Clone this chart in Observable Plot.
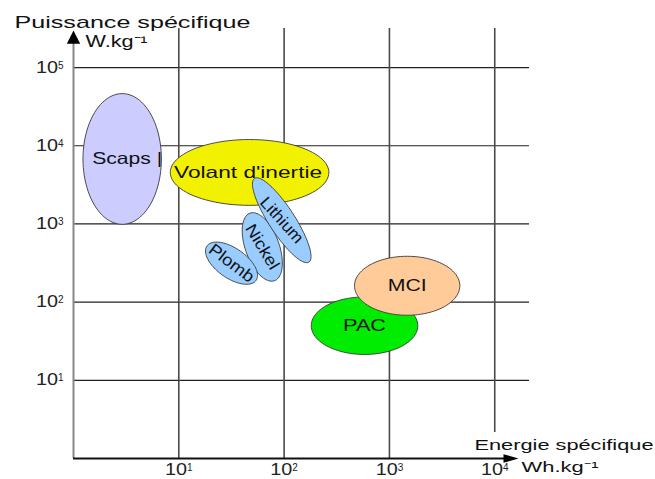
<!DOCTYPE html>
<html><head><meta charset="utf-8">
<script src="https://cdn.jsdelivr.net/npm/d3@7"></script>
<script src="https://cdn.jsdelivr.net/npm/@observablehq/plot@0.6"></script>
<style>body{margin:0;background:#fff}</style>
</head><body><div id="chart"></div>
<script>
// ---- data ----
const technologies = ["Scaps", "Volant d'inertie", "Nickel", "Plomb", "Lithium", "PAC", "MCI"];
const labels       = ["Scaps |", "Volant d'inertie", "Nickel", "Plomb", "Lithium", "PAC", "MCI"];
// ellipse = major axis from (energyFrom, powerFrom) to (energyTo, powerTo), minor/major ratio
const energyFrom = [2.9, 8.3, 47.4, 18.5, 52.4, 181, 466];      // Wh/kg
const energyTo   = [2.9, 266, 81.1, 54.2, 172, 1860, 4660];
const powerFrom  = [46500, 4560, 1374, 522, 3830, 50, 162];     // W/kg
const powerTo    = [990, 4560, 188, 190, 325, 50, 162];
const widthRatio = [0.6, 0.415, 0.47, 0.5, 0.26, 0.54, 0.56];
const xTicks = [10, 100, 1000, 10000];
const yTicks = [10, 100, 1000, 10000, 100000];
const tickLabels = {10: "10¹", 100: "10²", 1000: "10³", 10000: "10⁴", 100000: "10⁵"};
const yTitle = "Puissance spécifique", yUnit = "W.kg⁻¹";
const xTitle = "Energie spécifique", xUnit = "Wh.kg⁻¹";

// ---- styles ----
const fills = {"Scaps": "#ccccff", "Volant d'inertie": "#f2f200", "Nickel": "#99ccff", "Plomb": "#99ccff",
               "Lithium": "#99ccff", "PAC": "#00ec00", "MCI": "#ffcc99"};
const labelRotate = {"Nickel": 59, "Plomb": 37, "Lithium": 48};
const labelDx = {"Scaps": 5, "Volant d'inertie": -1.5};
const textWidths = {"Scaps |": 70, "Volant d'inertie": 148, "Nickel": 50, "Plomb": 52, "Lithium": 56,
  "PAC": 43, "MCI": 39, "Puissance spécifique": 236, "W.kg⁻¹": 62, "Energie spécifique": 179, "Wh.kg⁻¹": 77};
const superDigits = {"¹": "1", "²": "2", "³": "3", "⁴": "4", "⁵": "5"};

const W = 655, H = 479, mL = 73, mR = 126, mT = 28, mB = 21;
const xMax = 10 ** 4.33, yMax = 10 ** 5.5;
const kx = (W - mL - mR) / Math.log10(xMax), ky = (H - mT - mB) / Math.log10(yMax);

function ellipsePoints(i, n = 96) {
  const u1 = Math.log10(energyFrom[i]) * kx, v1 = -Math.log10(powerFrom[i]) * ky;
  const u2 = Math.log10(energyTo[i]) * kx, v2 = -Math.log10(powerTo[i]) * ky;
  const uc = (u1 + u2) / 2, vc = (v1 + v2) / 2;
  const a = Math.hypot(u2 - u1, v2 - v1) / 2, b = a * widthRatio[i];
  const phi = Math.atan2(v2 - v1, u2 - u1);
  return d3.range(n).map(k => {
    const t = 2 * Math.PI * k / n, ex = a * Math.cos(t), ey = b * Math.sin(t);
    const u = uc + ex * Math.cos(phi) - ey * Math.sin(phi);
    const v = vc + ex * Math.sin(phi) + ey * Math.cos(phi);
    return {energy: 10 ** (u / kx), power: 10 ** (-v / ky)};
  });
}

const labelData = technologies.map((t, i) => ({
  name: t, label: labels[i],
  energy: Math.sqrt(energyFrom[i] * energyTo[i]),
  power: Math.sqrt(powerFrom[i] * powerTo[i])
}));

const arrowUp = {draw(ctx) { ctx.moveTo(0, 0); ctx.lineTo(6.7, 13.3); ctx.lineTo(-6.7, 13.3); ctx.closePath(); }};
const arrowRight = {draw(ctx) { ctx.moveTo(0, 0); ctx.lineTo(-15, -4.2); ctx.lineTo(-15, 4.2); ctx.closePath(); }};

const marks = [
  Plot.ruleY(yTicks, {y: d => d, stroke: "#222", strokeWidth: 1.2}),
  Plot.ruleX(xTicks.slice(0, 3), {x: d => d, stroke: "#4a4a4a", strokeWidth: 1.6}),
  Plot.ruleX(xTicks.slice(3), {x: d => d, stroke: "#4a4a4a", strokeWidth: 1.6, insetBottom: 26}),
  Plot.ruleX([1], {x: d => d, stroke: "#888", strokeWidth: 2, insetTop: 8}),
  Plot.ruleY([1], {y: d => d, stroke: "#111", strokeWidth: 2, insetRight: 20}),
  Plot.dot([1], {x: () => 1, y: () => yMax, symbol: arrowUp, fill: "#000", stroke: "none", dy: 2}),
  Plot.dot([1], {x: () => xMax, y: () => 1, symbol: arrowRight, fill: "#000", stroke: "none", dx: -11})
];
technologies.forEach((t, i) => {
  marks.push(Plot.line(ellipsePoints(i), {x: "energy", y: "power", curve: "linear-closed",
    fill: fills[t], stroke: "#3a3a3a", strokeWidth: 0.9}));
});
labelData.forEach(d => {
  marks.push(Plot.text([d], {x: "energy", y: "power", text: "label", rotate: labelRotate[d.name] || 0,
    dx: labelDx[d.name] || 0, fontSize: 16.5, fill: "#111"}));
});
marks.push(
  Plot.text([yTitle], {frameAnchor: "top-left", text: d => d, textAnchor: "start", lineAnchor: "bottom", dx: -59, dy: -1, fontSize: 17, fill: "#111"}),
  Plot.text([yUnit], {frameAnchor: "top-left", text: d => d, textAnchor: "start", lineAnchor: "bottom", dx: 12, dy: 18.7, fontSize: 16, fill: "#111"}),
  Plot.text([xTitle], {frameAnchor: "bottom-right", text: d => d, textAnchor: "start", lineAnchor: "bottom", dx: -55, dy: -8.3, fontSize: 15, fill: "#111"}),
  Plot.text([xUnit], {frameAnchor: "bottom-right", text: d => d, textAnchor: "start", lineAnchor: "bottom", dx: -8, dy: 13.7, fontSize: 14.5, fill: "#111"})
);

const chart = Plot.plot({
  width: W, height: H,
  marginLeft: mL, marginRight: mR, marginTop: mT, marginBottom: mB,
  style: {fontFamily: "'Liberation Sans', Arial, sans-serif", fontSize: "16px", color: "#222", background: "#fff", overflow: "visible"},
  x: {type: "log", domain: [1, xMax], ticks: xTicks, tickFormat: d => tickLabels[d], tickSize: 0, tickPadding: 5, label: null},
  y: {type: "log", domain: [1, yMax], ticks: yTicks, tickFormat: d => tickLabels[d], tickSize: 0, tickPadding: 10, label: null},
  marks
});
document.getElementById("chart").appendChild(chart);
chart.querySelectorAll("text").forEach(t => {
  const s = t.textContent;
  const w = textWidths[s];
  if (w) { t.setAttribute("textLength", w); t.setAttribute("lengthAdjust", "spacingAndGlyphs"); return; }
  const sup = superDigits[s.slice(-1)];
  if (sup && s.startsWith("10")) {
    // render the exponent as a raised, smaller tspan like the reference
    t.textContent = "";
    const base = document.createElementNS("http://www.w3.org/2000/svg", "tspan");
    base.textContent = "10";
    base.setAttribute("textLength", 22);
    base.setAttribute("lengthAdjust", "spacingAndGlyphs");
    const ex = document.createElementNS("http://www.w3.org/2000/svg", "tspan");
    ex.textContent = sup;
    ex.setAttribute("font-size", "10");
    ex.setAttribute("dy", "-0.4em");
    t.appendChild(base); t.appendChild(ex);
  }
});
</script>
</body></html>
